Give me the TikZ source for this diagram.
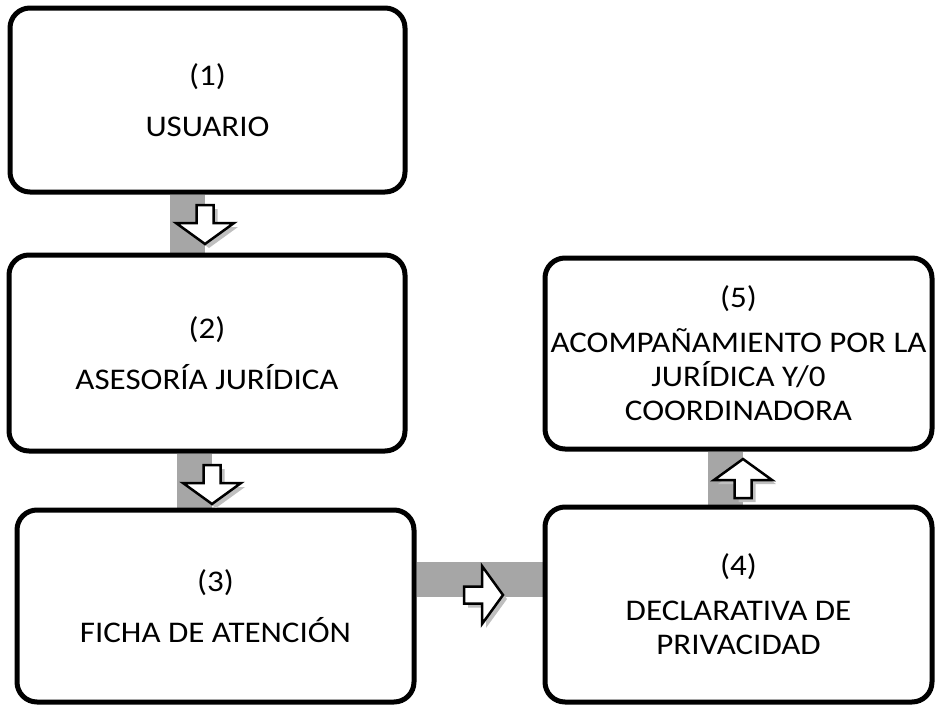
\documentclass[tikz,border=0pt]{standalone}
\usepackage{fontspec}
\setmainfont{Carlito}[FakeStretch=1.1]
\usetikzlibrary{backgrounds}
\definecolor{bandgray}{HTML}{A6A6A6}
\definecolor{shadegray}{HTML}{BFBFBF}

\tikzset{
  stepbox/.style={draw=black, line width=5pt, rounded corners=20pt, fill=white,
    align=center, inner sep=0pt, font=\fontsize{30}{34}\selectfont},
  bandline/.style={draw=bandgray, line width=35pt},
  barrow/.pic={
    \path[pic actions] (-18,-8.5) -- (0,-8.5) -- (0,-29) -- (21,0)
      -- (0,29) -- (0,8.5) -- (-18,8.5) -- cycle;},
  arrowbody/.style={fill=white, draw=black, line width=2.5pt, line join=miter},
  arrowshade/.style={fill=shadegray},
}

\begin{document}
\begin{tikzpicture}[x=1pt, y=-1pt]
\useasboundingbox (0,0) rectangle (935,707);

% process steps
\node[stepbox, minimum width=395pt, minimum height=184pt] (b1) at (207.5,100)
  {(1)\\[17pt]USUARIO};
\node[stepbox, minimum width=396pt, minimum height=196pt] (b2) at (207,353)
  {(2)\\[17pt]ASESORÍA JURÍDICA};
\node[stepbox, minimum width=397pt, minimum height=192pt] (b3) at (215.5,606)
  {(3)\\[17pt]FICHA DE ATENCIÓN};
\node[stepbox, minimum width=387pt, minimum height=195pt] (b4) at (738.5,604.5)
  {(4)\\[11pt]DECLARATIVA DE\\PRIVACIDAD};
\node[stepbox, minimum width=387pt, minimum height=191pt] (b5) at (738.5,353.5)
  {(5)\\[11pt]ACOMPAÑAMIENTO POR LA\\JURÍDICA Y/0\\COORDINADORA};

% grey connector bands behind the boxes
\begin{scope}[on background layer]
  \draw[bandline] ([xshift=-20pt]b1.south) -- ([xshift=-20pt]b1.south |- b2.north);
  \draw[bandline] ([xshift=-12.5pt]b2.south) -- ([xshift=-12.5pt]b2.south |- b3.north);
  \draw[bandline] ([yshift=26.5pt]b3.east) -- ([yshift=26.5pt]b3.east -| b4.west);
  \draw[bandline] ([xshift=-13pt]b4.north) -- ([xshift=-13pt]b4.north |- b5.south);
\end{scope}

% block arrows with their drop shadows
\pic[arrowshade, rotate=-90] at (209,227) {barrow};
\pic[arrowbody, rotate=-90] at (205,223) {barrow};

\pic[arrowshade, rotate=-90] at (216,487) {barrow};
\pic[arrowbody, rotate=-90] at (212,483) {barrow};

\pic[arrowshade] at (486,599) {barrow};
\pic[arrowbody] at (482,595) {barrow};

\pic[arrowshade, rotate=90] at (747,484) {barrow};
\pic[arrowbody, rotate=90] at (743,480) {barrow};
\end{tikzpicture}
\end{document}
